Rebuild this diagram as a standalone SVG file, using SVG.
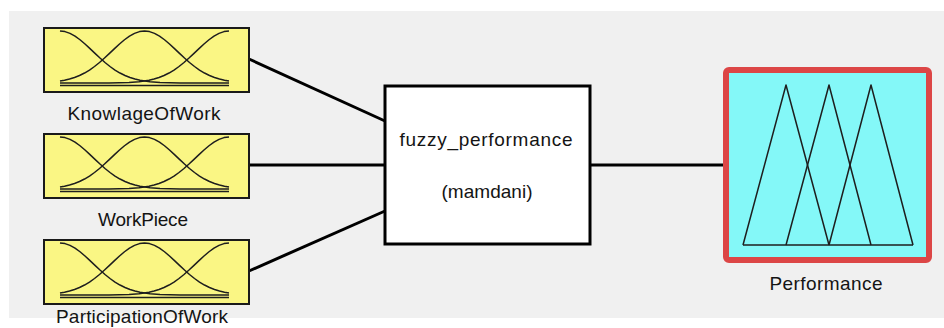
<svg xmlns="http://www.w3.org/2000/svg" xmlns:xlink="http://www.w3.org/1999/xlink" width="944" height="328" viewBox="0 0 944 328">
  <style>
    .lbl { font-family: "Liberation Sans", Arial, sans-serif; font-size: 19px; fill: #141414; text-anchor: middle; }
    .inbox { fill: #faf684; stroke: #1a1a1a; stroke-width: 2; }
    .mf { fill: none; stroke: #1e1e1e; stroke-width: 1.5; stroke-linejoin: round; }
    .wire { stroke: #000; stroke-width: 3; stroke-linecap: butt; fill: none; }
  </style>
  <defs>
    <!-- three gaussian membership functions drawn inside an input box (205 x 64) -->
    <g id="gauss3">
      <polyline class="mf" points="16,3 21,3.59 26,5.34 31,8.1 36,11.74 41,15.97 46,20.6 51,25.37 56,30.06 61,34.48 66,38.5 71,42.03 76,45.04 81,47.53 86,49.52 91,51.07 96,52.25 106,53.74 116,54.47 126,54.8 136,54.93 146,55 185,55"/>
      <polyline class="mf" points="16,53.04 20.5,52.25 25.5,51.07 30.5,49.52 35.5,47.53 40.5,45.04 45.5,42.03 50.5,38.5 55.5,34.48 60.5,30.06 65.5,25.37 70.5,20.6 75.5,15.97 80.5,11.74 85.5,8.1 90.5,5.34 95.5,3.59 100.5,3 105.5,3.59 110.5,5.34 115.5,8.1 120.5,11.74 125.5,15.97 130.5,20.6 135.5,25.37 140.5,30.06 145.5,34.48 150.5,38.5 155.5,42.03 160.5,45.04 165.5,47.53 170.5,49.52 175.5,51.07 180.5,52.25 185,53.04"/>
      <polyline class="mf" points="185,3 180,3.59 175,5.34 170,8.1 165,11.74 160,15.97 155,20.6 150,25.37 145,30.06 140,34.48 135,38.5 130,42.03 125,45.04 120,47.53 115,49.52 110,51.07 105,52.25 95,53.74 85,54.47 75,54.8 65,54.93 55,55 16,55"/>
      <line class="mf" x1="16" y1="57.5" x2="185" y2="57.5"/>
    </g>
  </defs>

  <!-- window background -->
  <rect x="0" y="0" width="944" height="328" fill="#ffffff"/>
  <rect x="9" y="11" width="935" height="307" fill="#f0f0f0"/>

  <!-- connectors -->
  <g id="connectors">
    <line class="wire" x1="249" y1="59" x2="385" y2="121"/>
    <line class="wire" x1="249" y1="165" x2="385" y2="165"/>
    <line class="wire" x1="249" y1="271" x2="385" y2="211"/>
    <line class="wire" x1="590" y1="165" x2="723" y2="165"/>
  </g>

  <!-- input: KnowlageOfWork -->
  <g id="input-knowlage">
    <rect class="inbox" x="44" y="28" width="205" height="64"/>
    <use xlink:href="#gauss3" href="#gauss3" x="44" y="28"/>
    <text class="lbl" x="144" y="120" textLength="153" lengthAdjust="spacing">KnowlageOfWork</text>
  </g>

  <!-- input: WorkPiece -->
  <g id="input-workpiece">
    <rect class="inbox" x="44" y="134" width="205" height="64"/>
    <use xlink:href="#gauss3" href="#gauss3" x="44" y="134"/>
    <text class="lbl" x="143" y="226" textLength="90" lengthAdjust="spacing">WorkPiece</text>
  </g>

  <!-- input: ParticipationOfWork -->
  <g id="input-participation">
    <rect class="inbox" x="44" y="240" width="205" height="64"/>
    <use xlink:href="#gauss3" href="#gauss3" x="44" y="240"/>
    <text class="lbl" x="142" y="323" textLength="172" lengthAdjust="spacing">ParticipationOfWork</text>
  </g>

  <!-- inference system -->
  <g id="fis">
    <rect x="385" y="86" width="205" height="158" fill="#ffffff" stroke="#000" stroke-width="3"/>
    <text class="lbl" x="486" y="146" textLength="173" lengthAdjust="spacing">fuzzy_performance</text>
    <text class="lbl" x="487" y="198" textLength="91" lengthAdjust="spacing">(mamdani)</text>
  </g>

  <!-- output: Performance -->
  <g id="output-performance">
    <rect x="726" y="70" width="203" height="190" rx="3" fill="#84f8f8" stroke="#dc4646" stroke-width="6"/>
    <polyline class="mf" points="743,245 786,85 829,245"/>
    <polyline class="mf" points="786,245 829,85 871,245"/>
    <polyline class="mf" points="829,245 871,85 913,245"/>
    <line class="mf" x1="743" y1="245" x2="913" y2="245"/>
    <text class="lbl" x="826" y="290" textLength="113" lengthAdjust="spacing">Performance</text>
  </g>
</svg>
